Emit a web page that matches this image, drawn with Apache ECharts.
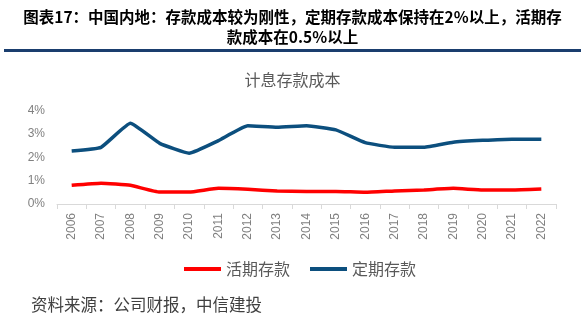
<!DOCTYPE html>
<html>
<head>
<meta charset="utf-8">
<script src="https://cdn.jsdelivr.net/npm/echarts@6/dist/echarts.min.js"></script>
<style>
html,body{margin:0;padding:0;background:#fff;}
#chart{width:585px;height:330px;}
</style>
</head>
<body>
<div id="chart"></div>
<script>
// 年份
const years = ['2006','2007','2008','2009','2010','2011','2012','2013','2014','2015','2016','2017','2018','2019','2020','2021','2022'];
// 活期存款成本 (%)
const demandCost = [0.80,0.89,0.80,0.51,0.51,0.67,0.63,0.56,0.54,0.54,0.50,0.56,0.60,0.67,0.60,0.60,0.64];
// 定期存款成本 (%)
const timeCost = [2.27,2.43,3.46,2.60,2.18,2.72,3.35,3.29,3.35,3.18,2.63,2.43,2.43,2.65,2.73,2.78,2.78];
// 纵轴刻度
const yTicks = [0,1,2,3,4];

const chart = echarts.init(document.getElementById('chart'));
const cjk = '"Noto Sans CJK SC", "Microsoft YaHei", sans-serif';
const latin = 'Arial, "Liberation Sans", sans-serif';

chart.setOption({
  animation: false,
  backgroundColor: '#fff',
  title: {
    text: '计息存款成本',
    left: 'center',
    top: 67,
    textStyle: { fontFamily: cjk, fontSize: 16, fontWeight: 'normal', color: '#595959' }
  },
  legend: {
    top: 256,
    left: 179,
    itemWidth: 37,
    itemHeight: 4,
    itemGap: 20,
    icon: 'rect',
    textStyle: { fontFamily: cjk, fontSize: 16, color: '#595959' },
    data: ['活期存款', '定期存款']
  },
  grid: { left: 57, right: 29, top: 110.7, bottom: 126, containLabel: false },
  xAxis: {
    type: 'category',
    data: years,
    boundaryGap: true,
    axisLine: { lineStyle: { color: '#d9d9d9', width: 1 } },
    axisTick: { show: true, length: 5, lineStyle: { color: '#d9d9d9' } },
    axisLabel: { rotate: 90, color: '#808080', fontSize: 12, fontFamily: latin, margin: 9 }
  },
  yAxis: {
    type: 'value',
    min: yTicks[0],
    max: yTicks[yTicks.length - 1],
    interval: 1,
    axisLine: { show: false },
    axisTick: { show: false },
    splitLine: { show: false },
    axisLabel: { formatter: v => v + '%', color: '#808080', fontSize: 12, fontFamily: latin, margin: 12 }
  },
  series: [
    {
      name: '活期存款',
      type: 'line',
      data: demandCost,
      smooth: 0.12,
      symbol: 'none',
      itemStyle: { color: '#ff0000' },
      lineStyle: { color: '#ff0000', width: 3.5 }
    },
    {
      name: '定期存款',
      type: 'line',
      data: timeCost,
      smooth: 0.12,
      symbol: 'none',
      itemStyle: { color: '#0c4f7e' },
      lineStyle: { color: '#0c4f7e', width: 3.5 }
    }
  ],
  graphic: [
    {
      type: 'text',
      x: 292.5,
      y: 9,
      style: {
        text: '图表17：中国内地：存款成本较为刚性，定期存款成本保持在2%以上，活期存',
        font: 'bold 15.5px ' + cjk,
        fill: '#000',
        align: 'center',
        verticalAlign: 'top'
      }
    },
    {
      type: 'text',
      x: 292.5,
      y: 29,
      style: {
        text: '款成本在0.5%以上',
        font: 'bold 15.5px ' + cjk,
        fill: '#000',
        align: 'center',
        verticalAlign: 'top'
      }
    },
    {
      type: 'rect',
      shape: { x: 4, y: 49, width: 577, height: 3 },
      style: { fill: '#1a3e6e' }
    },
    {
      type: 'text',
      x: 31,
      y: 296,
      style: {
        text: '资料来源：公司财报，中信建投',
        font: '16.5px ' + cjk,
        fill: '#404040',
        verticalAlign: 'top'
      }
    }
  ]
});
</script>
</body>
</html>
